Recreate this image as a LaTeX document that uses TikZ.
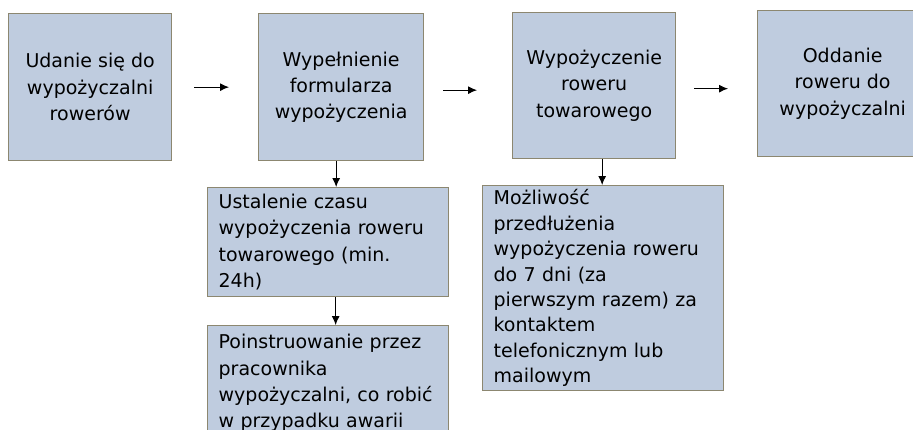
\documentclass[tikz,border=0pt]{standalone}
\usepackage{fontspec}
\setmainfont{DejaVu Sans}
\usepackage{tikz}
\usetikzlibrary{calc,arrows.meta}

\definecolor{boxblue}{HTML}{BFCCDF}
\definecolor{boxframe}{HTML}{8C8770}

\begin{document}
\begin{tikzpicture}[x=1pt,y=-1pt,thick,
		main box/.style = {draw=boxframe,fill=boxblue,line width=1.3pt,
			anchor=north west,align=center,inner sep=0pt,
			font=\fontsize{19}{26.3}\selectfont},
		side box/.style = {main box,align=left,text width=219pt,
			inner xsep=11pt,inner ysep=0pt},
		arr/.style = {-{Latex[length=9pt,width=8pt]},line width=1pt}]
			\useasboundingbox (0,0) rectangle (913,429);
			\node[main box,minimum width=163pt,minimum height=147pt] at (8,13) (udanie) {Udanie się do\\wypożyczalni\\rowerów};
			\node[main box,minimum width=165pt,minimum height=147pt] at (258,13) (formularz) {Wypełnienie\\formularza\\wypożyczenia};
			\node[main box,minimum width=163pt,minimum height=146pt] at (512,12) (wypozyczenie) {Wypożyczenie\\roweru\\towarowego};
			\node[main box,minimum width=170pt,minimum height=146pt] at (757,10) (oddanie) {Oddanie\\roweru do\\wypożyczalni};
			\node[side box,minimum height=109pt] at (207,187) (czas) {Ustalenie czasu\\wypożyczenia roweru\\towarowego (min.\\24h)};
			\node[side box,minimum height=115pt] at (207,325) (instrukcja) {Poinstruowanie przez\\pracownika\\wypożyczalni, co robić\\w przypadku awarii};
			\node[side box,minimum height=205pt,font=\fontsize{19}{25.4}\selectfont] at (482,185) (przedluzenie) {Możliwość\\przedłużenia\\wypożyczenia roweru\\do 7 dni (za\\pierwszym razem) za\\kontaktem\\telefonicznym lub\\mailowym};
			\draw[arr,shorten <=22pt,shorten >=29pt] (udanie) -- (formularz);
			\draw[arr,shorten <=19pt,shorten >=35pt] ([yshift=-3]formularz.east) -- ([yshift=-3]formularz.east -| wypozyczenie.west);
			\draw[arr,shorten <=18pt,shorten >=29pt] ([yshift=-3]wypozyczenie.east) -- ([yshift=-3]wypozyczenie.east -| oddanie.west);
			\draw[arr] ([xshift=-5]formularz.south) -- ([xshift=-5]formularz.south |- czas.north);
			\draw[arr] ([xshift=7.5]czas.south) -- ([xshift=7.5]czas.south |- instrukcja.north);
			\draw[arr] ([xshift=8]wypozyczenie.south) -- ([xshift=8]wypozyczenie.south |- przedluzenie.north);
		\end{tikzpicture}
\end{document}
